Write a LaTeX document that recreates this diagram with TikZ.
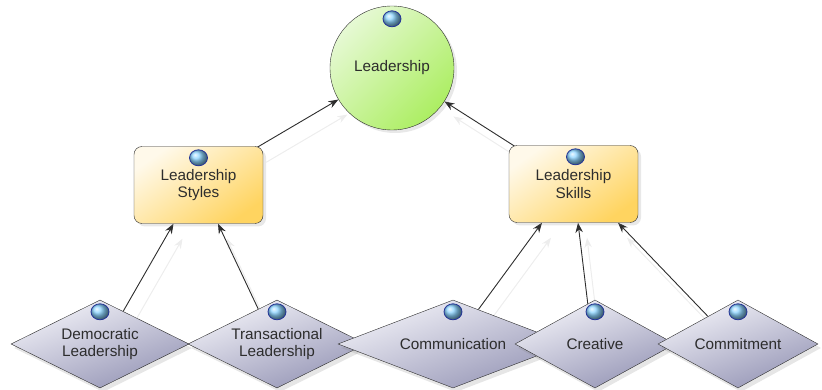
\documentclass[tikz,border=0pt]{standalone}
\usepackage{fontspec}
\setmainfont{Liberation Sans}
\usepackage{tikz}
\usetikzlibrary{shapes.geometric, arrows.meta, calc, backgrounds, shadows}
\definecolor{goalA}{RGB}{230, 249, 212}
\definecolor{goalB}{RGB}{172, 238, 98}
\definecolor{groupA}{RGB}{255, 249, 234}
\definecolor{groupB}{RGB}{255, 212, 96}
\definecolor{traitA}{RGB}{242, 242, 248}
\definecolor{traitB}{RGB}{150, 150, 182}
\definecolor{ballblue}{RGB}{140, 212, 255}
\definecolor{ink}{RGB}{45, 45, 45}
\tikzstyle{goal} = [circle, draw=ink, minimum size=124pt, inner sep=0pt, top color=goalA, bottom color=goalB, shading angle=45, text=ink, font=\fontsize{15.3}{17.5}\selectfont, drop shadow={shadow xshift=3pt, shadow yshift=-3pt, opacity=0.18}]
\tikzstyle{group} = [rectangle, rounded corners=8pt, draw=ink, minimum width=129pt, minimum height=77pt, align=center, top color=groupA, bottom color=groupB, shading angle=35, text=ink, font=\fontsize{15.3}{17.5}\selectfont, drop shadow={shadow xshift=3pt, shadow yshift=-3pt, opacity=0.18}]
\tikzstyle{trait} = [diamond, aspect=2, draw=ink, inner sep=0pt, minimum width=178pt, minimum height=88pt, align=center, top color=traitA, bottom color=traitB, shading angle=20, text=ink, font=\fontsize{15.3}{17.5}\selectfont, drop shadow={shadow xshift=3pt, shadow yshift=-4pt, opacity=0.2}]
\tikzstyle{infoball} = [ellipse, minimum width=18pt, minimum height=16pt, inner sep=0pt, draw=ballblue!40!blue!60!black, line width=0.8pt, shading=ball, ball color=ballblue]
\tikzstyle{arrow} = [draw=ink, line width=0.9pt, -{Stealth[length=10pt, width=7.5pt]}, preaction={draw=black!7, line width=1pt, transform canvas={shift={(9pt,-15pt)}}}]

\begin{document}
\begin{tikzpicture}[x=1pt, y=-1pt]
    \useasboundingbox (0, 0) rectangle (822, 390);

    % Goal
    \node[goal] (lead) at (392, 68) {Leadership};

    % Groups
    \node[group] (styles) at (198.5, 185) {Leadership\\Styles};
    \node[group] (skills) at (573.5, 184) {Leadership\\Skills};

    % Traits
    \node[trait] (dem) at (100, 344) {Democratic\\Leadership};
    \node[trait] (trans) at (277, 344) {Transactional\\Leadership};
    \node[trait, minimum width=230pt] (comm) at (453, 344) {Communication};
    \node[trait, minimum width=160pt] (crea) at (595, 344) {Creative};
    \node[trait, minimum width=160pt] (commit) at (738, 344) {Commitment};

    % Info balls
    \node[infoball] (lead-b) at ([yshift=-13pt]lead.north) {};
    \node[infoball] (styles-b) at ([yshift=-11.5pt]styles.north) {};
    \node[infoball] (skills-b) at ([xshift=2pt, yshift=-11.5pt]skills.north) {};
    \node[infoball] (dem-b) at ([yshift=-12pt]dem.north) {};
    \node[infoball] (trans-b) at ([yshift=-12pt]trans.north) {};
    \node[infoball] (comm-b) at ([yshift=-12pt]comm.north) {};
    \node[infoball] (crea-b) at ([yshift=-12pt]crea.north) {};
    \node[infoball] (commit-b) at ([yshift=-12pt]commit.north) {};

    % Arrows
    \begin{scope}[on background layer]
    \draw[arrow] ([xshift=-6pt, yshift=-1pt]styles.north east) -- (lead);
    \draw[arrow] ([xshift=6pt, yshift=-1pt]skills.north west) -- (lead);
    \draw[arrow] ($(dem.north)!0.26!(dem.east)$) -- ([xshift=-25pt]styles.south);
    \draw[arrow] ($(trans.north)!0.21!(trans.west)$) -- ([xshift=19.5pt]styles.south);
    \draw[arrow] ($(comm.north)!0.22!(comm.east)$) -- ([xshift=-31.5pt]skills.south);
    \draw[arrow] ($(crea.north)!0.09!(crea.west)$) -- ([xshift=4.5pt]skills.south);
    \draw[arrow] ($(commit.north)!0.375!(commit.west)$) -- ([xshift=44.5pt]skills.south);
    \end{scope}
\end{tikzpicture}
\end{document}
